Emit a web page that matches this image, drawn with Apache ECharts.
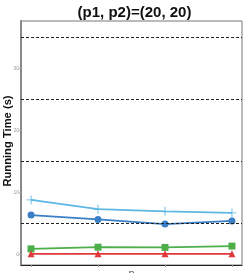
<!DOCTYPE html>
<html><head><meta charset="utf-8">
<script src="https://cdn.jsdelivr.net/npm/echarts@6/dist/echarts.min.js"></script>
<style>html,body{margin:0;padding:0;background:#fff}#c{width:245px;height:273px}</style>
</head><body><div id="c"></div>
<script>
var categories = ['a', 'b', 'c', 'd'];
var seriesLightBlue = [8.75, 7.25, 6.9, 6.65];
var seriesDarkBlue = [6.3, 5.6, 4.85, 5.35];
var seriesGreen = [0.85, 1.12, 1.08, 1.3];
var seriesRed = [0.05, 0.05, 0.05, 0.05];
var yTickLabels = [0, 10, 20, 30];
var refLines = [5, 15, 25, 35];

function pairs(arr) { return arr.map(function (v, i) { return [i, v]; }); }

function mkSeries(data, color, symbol, size, withRef) {
  var s = {
    type: 'line', data: pairs(data), symbol: symbol, symbolSize: size,
    lineStyle: { color: color, width: 1.8 },
    itemStyle: { color: color },
    emphasis: { disabled: true }, z: 3
  };
  if (withRef) {
    s.markLine = {
      silent: true, symbol: 'none', label: { show: false },
      lineStyle: { color: '#222', type: [3, 2], width: 1 },
      data: refLines.map(function (v) { return { yAxis: v }; })
    };
  }
  return s;
}

var chart = echarts.init(document.getElementById('c'));
chart.setOption({
  animation: false,
  title: {
    text: '(p1, p2)=(20, 20)', left: 129.5, top: 0, textAlign: 'center',
    textStyle: { fontFamily: 'Liberation Sans', fontWeight: 'bold', fontSize: 15, color: '#111' }
  },
  graphic: [{
    type: 'text', x: 2, y: 141, rotation: Math.PI / 2,
    style: { text: 'Running Time (s)', fill: '#111', font: 'bold 11.2px "Liberation Sans"',
             textAlign: 'center', textVerticalAlign: 'top' }
  }],
  grid: { left: 21, right: 3, top: 21, bottom: 8, outerBoundsMode: 'none', containLabel: false,
          show: true, borderColor: '#777', borderWidth: 1, backgroundColor: 'transparent' },
  xAxis: {
    type: 'value', min: -0.15, max: 3.15,
    axisLine: { show: true, onZero: false, lineStyle: { color: '#222', width: 1 } },
    axisTick: { show: true, length: 2, customValues: [0, 1, 2, 3], lineStyle: { color: '#999' } },
    axisLabel: { show: false, customValues: [0, 1, 2, 3] },
    splitLine: { show: false },
    name: 'n', nameLocation: 'middle', nameGap: 3,
    nameTextStyle: { fontFamily: 'Liberation Sans', fontSize: 11, color: '#555', verticalAlign: 'top' }
  },
  yAxis: {
    type: 'value', min: -1.75, max: 37.6,
    axisLine: { show: true, onZero: false, lineStyle: { color: '#888', width: 2 } },
    axisTick: { show: true, length: 2, customValues: yTickLabels, lineStyle: { color: '#aaa' } },
    axisLabel: { customValues: yTickLabels, fontSize: 5, color: '#999', margin: 2, fontFamily: 'Liberation Sans' },
    splitLine: { show: false }
  },
  series: [
    mkSeries(seriesLightBlue, '#5db8e4', 'path://M-1,-0.1L1,-0.1L1,0.1L-1,0.1ZM-0.1,-1L0.1,-1L0.1,1L-0.1,1Z', 9, true),
    mkSeries(seriesDarkBlue, '#3a7fc5', 'circle', 7, false),
    mkSeries(seriesGreen, '#4daf4a', 'rect', 7, false),
    mkSeries(seriesRed, '#e0393b', 'triangle', 7, false)
  ]
});
</script></body></html>
